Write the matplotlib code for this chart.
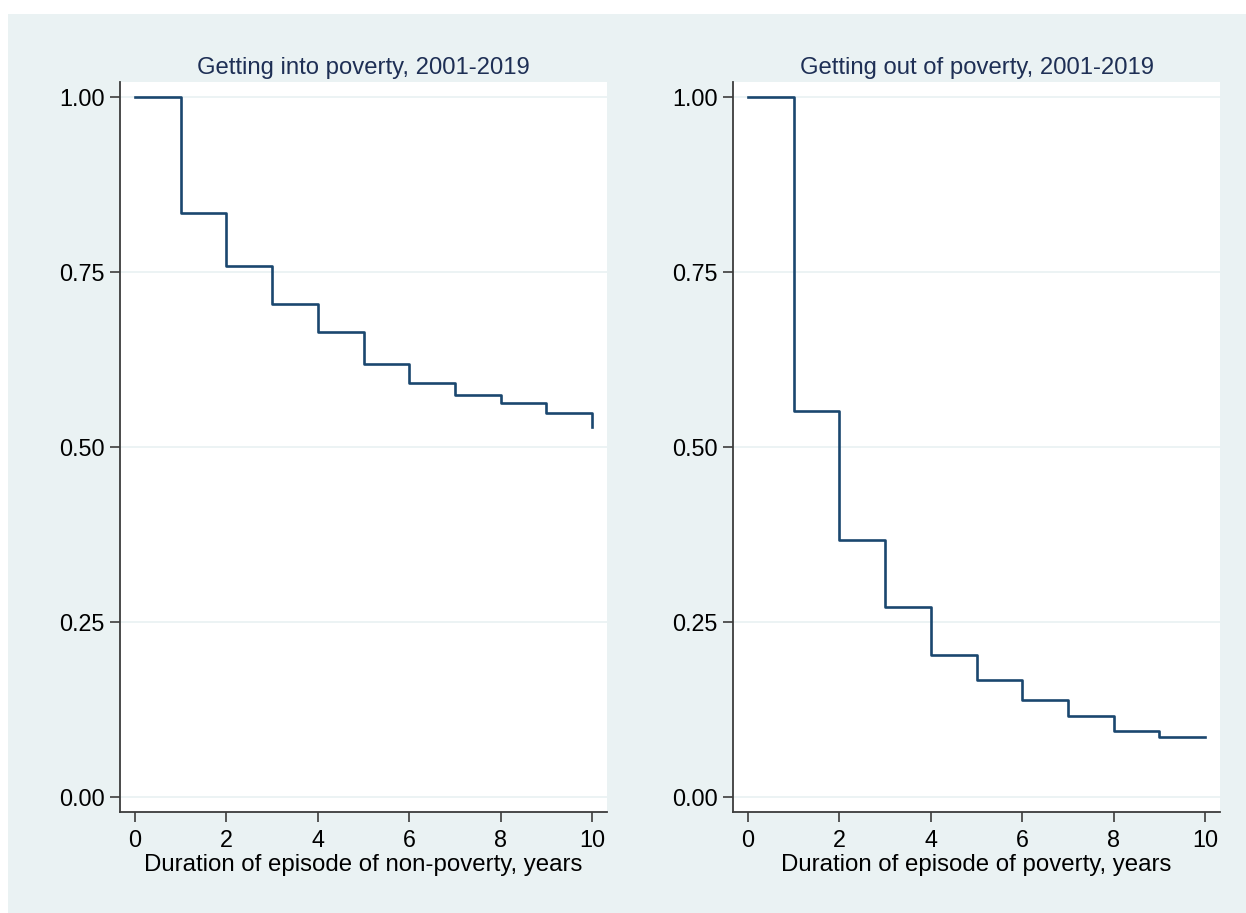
import matplotlib.pyplot as plt
from matplotlib.patches import Rectangle

plt.rcParams['font.family'] = ['Liberation Sans', 'DejaVu Sans']

# Kaplan-Meier survivor estimates by year of episode
years = [0, 1, 2, 3, 4, 5, 6, 7, 8, 9, 10]
surv_into = [1.00, 0.834, 0.758, 0.705, 0.664, 0.619, 0.592, 0.574, 0.563, 0.549, 0.528]
surv_out = [1.00, 0.552, 0.367, 0.271, 0.203, 0.167, 0.138, 0.115, 0.094, 0.085, 0.085]

titles = ["Getting into poverty, 2001-2019", "Getting out of poverty, 2001-2019"]
xlabels = ["Duration of episode of non-poverty, years",
           "Duration of episode of poverty, years"]
yticks = [0, 0.25, 0.5, 0.75, 1.0]
ytick_labels = ["0.00", "0.25", "0.50", "0.75", "1.00"]
xticks = [0, 2, 4, 6, 8, 10]

W, H = 1246, 913
bg = "#eaf2f3"
navy = "#1a476f"
axcol = "#3c3c3c"

fig = plt.figure(figsize=(W / 100, H / 100), dpi=100, facecolor="white")
fig.patches.append(Rectangle((8 / W, 0), 1 - 8 / W, 1 - 14 / H,
                             transform=fig.transFigure, facecolor=bg,
                             edgecolor="none", zorder=-10))

# axes boxes in pixels: left, right, top, bottom
boxes = [(120, 607, 82, 812), (733, 1220, 82, 812)]
series = [surv_into, surv_out]

for (l, r, t, b), ys, title, xl in zip(boxes, series, titles, xlabels):
    ax = fig.add_axes([l / W, 1 - b / H, (r - l) / W, (b - t) / H])
    ax.set_facecolor("white")
    ax.step(years, ys, where="post", color=navy, lw=1.9, zorder=3)
    ax.set_xlim(-0.33, 10.33)
    ax.set_ylim(-0.0215, 1.0215)
    ax.set_yticks(yticks)
    ax.set_yticklabels(ytick_labels)
    ax.set_xticks(xticks)
    ax.grid(axis="y", color=bg, lw=1.3)
    ax.set_axisbelow(True)
    for s in ["top", "right"]:
        ax.spines[s].set_visible(False)
    for s in ["left", "bottom"]:
        ax.spines[s].set_color(axcol)
        ax.spines[s].set_linewidth(1.3)
    ax.tick_params(direction="out", length=7, width=1.2, color=axcol,
                   labelsize=16.8, labelcolor="black", pad=4)
    ax.tick_params(axis="x", pad=5.5)
    ax.set_title(title, fontsize=17.2, color="#1e2f55", pad=6)
    ax.set_xlabel(xl, fontsize=17.3, labelpad=1.5)

fig.savefig("out.png", dpi=100, facecolor="white")
